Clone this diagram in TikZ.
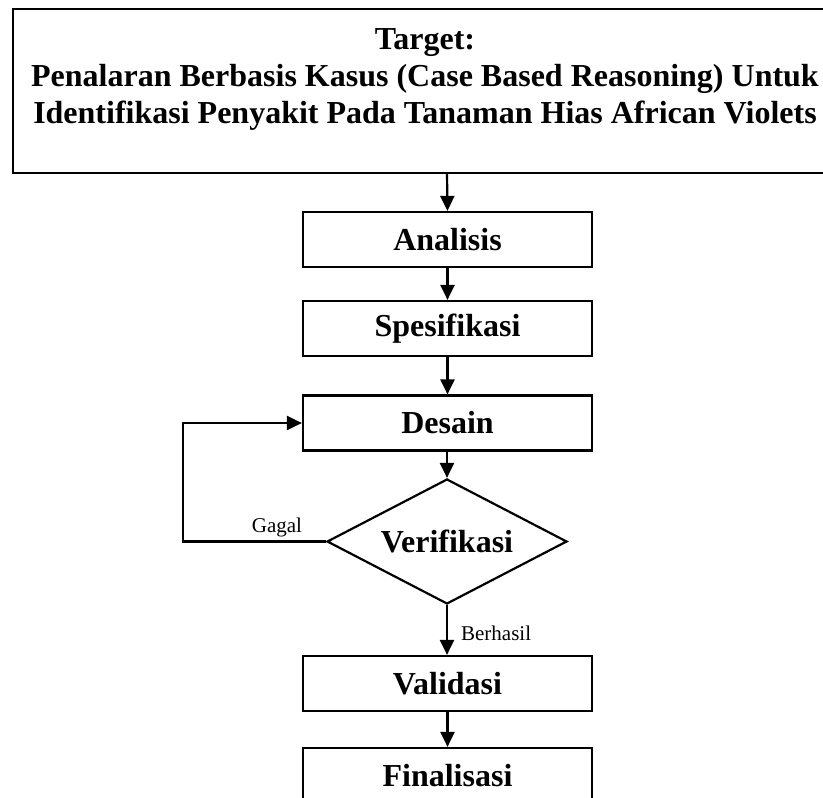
\documentclass[tikz,border=0pt]{standalone}
\usepackage{fontspec}
\setmainfont{Liberation Serif}
\usetikzlibrary{arrows.meta,shapes.geometric}
\begin{document}
\begin{tikzpicture}[x=1pt,y=-1pt,
  line width=2.2pt,
  flow/.style={-{Triangle[length=15pt,width=14pt]}},
  stepbox/.style={draw,rectangle,minimum width=289pt,minimum height=55pt,inner sep=0pt,
    font=\fontsize{32}{37}\selectfont\bfseries},
  decision/.style={draw,diamond,minimum width=240pt,minimum height=125pt,aspect=1.92,inner sep=0pt,
    font=\fontsize{32}{37}\selectfont\bfseries},
  lbl/.style={inner sep=0pt,font=\fontsize{21}{24}\selectfont}
]
\useasboundingbox (0,0) rectangle (823,798);
\clip (0,0) rectangle (823,798);
\fill[white] (0,0) rectangle (823,798);
\node[draw,rectangle,minimum width=824pt,minimum height=164pt,inner sep=0pt] (target) at (425,91) {};
\node[align=center,inner sep=0pt,font=\fontsize{32}{37}\selectfont\bfseries,anchor=north] (ttext) at (425,27)
  {Target:\\Penalaran Berbasis Kasus (Case Based Reasoning) Untuk\\Identifikasi Penyakit Pada Tanaman Hias African Violets};
\node[stepbox] (analisis) at (447.5,239.5) {Analisis};
\node[stepbox] (spes) at (447.5,328.5) {Spesifikasi};
\node[stepbox] (desain) at (447.5,423) {Desain};
\node[decision] (verif) at (447,541.5) {Verifikasi};
\node[stepbox] (valid) at (447.5,683.5) {Validasi};
\node[stepbox] (final) at (447.5,775.5) {Finalisasi};
\coordinate (tgtbot) at (447,173);
\coordinate (loopA) at (183,541.5);
\coordinate (loopB) at (183,423);
\draw[flow] (tgtbot) -- (analisis.north);
\draw[flow] (analisis) -- (spes);
\draw[flow] (spes) -- (desain);
\draw[flow] (desain.south -| verif.north) -- (verif.north);
\draw[flow] (verif.west) -- (loopA) -- (loopB) -- (desain.west);
\draw[flow] (verif.south) -- (valid.north -| verif.south);
\draw[flow] (valid) -- (final);
\node[lbl,anchor=south] (gagal) at (277,538) {Gagal};
\node[lbl,anchor=west] (berhasil) at (460,633) {Berhasil};
\end{tikzpicture}
\end{document}
